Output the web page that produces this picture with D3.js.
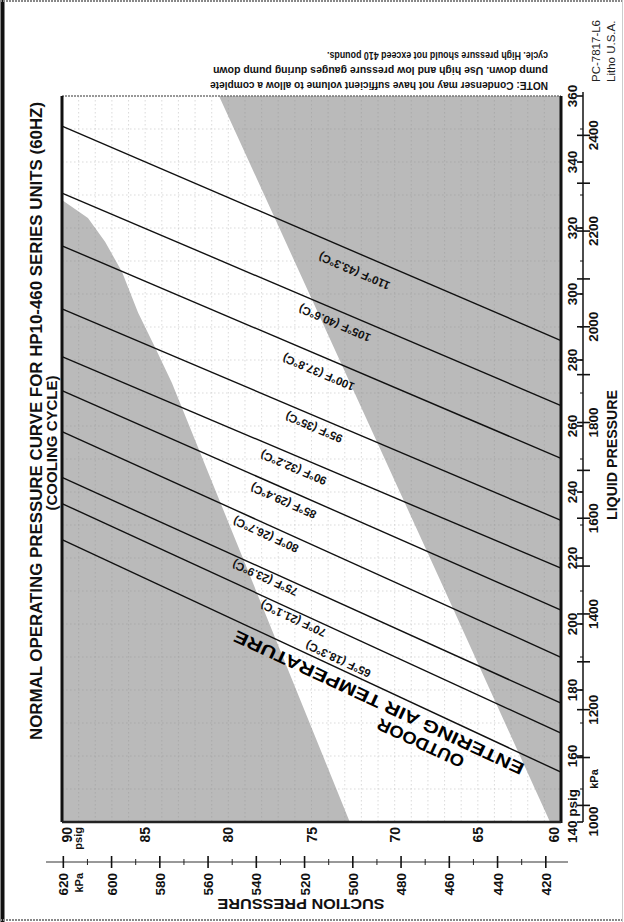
<!DOCTYPE html>
<html><head><meta charset="utf-8">
<script src="https://cdn.jsdelivr.net/npm/d3@7"></script>
<style>html,body{margin:0;padding:0;background:#fff;} svg{display:block;font-family:"Liberation Sans",Arial,Helvetica,sans-serif;}</style>
</head><body><div id="chart"></div>
<script>
// ---------- data ----------
const suctionTicks = [90, 85, 80, 75, 70, 65, 60];                 // psig
const suctionKpaTicks = [620, 600, 580, 560, 540, 520, 500, 480, 460, 440, 420];
const liquidTicks = [140, 160, 180, 200, 220, 240, 260, 280, 300, 320, 340, 360];
const liquidKpaTicks = [1000, 1200, 1400, 1600, 1800, 2000, 2200, 2400];
const tempLabels = ["110°F (43.3°C)", "105°F (40.6°C)", "100°F (37.8°C)", "95°F (35°C)",
  "90°F (32.2°C)", "85°F (29.4°C)", "80°F (26.7°C)", "75°F (23.9°C)", "70°F (21.1°C)", "65°F (18.3°C)"];
const liquidAtSuction90 = [350.9, 330.6, 314.6, 295.5, 281.0, 270.7, 258.3, 244.4, 236.5, 225.6];
const liquidAtSuction60 = [285.9, 266.2, 250.2, 231.4, 216.9, 204.2, 189.9, 176.0, 166.9, 155.1];
const labelSuction = [72.0, 73.3, 74.2, 74.6, 75.8, 76.4, 77.5, 77.6, 75.9, 73.6];
// normal-operating (white) band outline, [suction, liquid]
const bandLeftEdge = [[90, 328.5], [88.44, 323.0], [87.41, 315.8], [86.39, 306.7], [85.43, 294.4],
  [84.41, 283.9], [83.39, 273.0], [72.7, 140]];
const bandRightEdge = [[80.56, 360], [67.27, 213.3], [60.66, 140]];
const noteLines = ["NOTE: Condenser may not have sufficient volume to allow a complete",
  "pump down. Use high and low pressure gauges during pump down",
  "cycle. High pressure should not exceed 410 pounds."];
const titleLines = ["NORMAL OPERATING PRESSURE CURVE FOR HP10-460 SERIES UNITS (60HZ)", "(COOLING CYCLE)"];
const curveNote = ["OUTDOOR", "ENTERING AIR TEMPERATURE"];

const KPA_PER_PSI = 6.895;

// ---------- layout ----------
const W = 624, H = 922;
const P = {left: 62, right: 561, top: 96, bottom: 822};
const GREY = "#bababa";
const labelGap = [-14, -9, -12, -7, -8, -8, -6, -4, -4, 12];   // text offset from its line (px, text frame)

const svg = d3.select("#chart").append("svg").attr("width", W).attr("height", H);
svg.append("rect").attr("width", W).attr("height", H).attr("fill", "#fff");

const xS = d3.scaleLinear().domain([90, 60]).range([P.left, P.right]);   // suction -> screen x
const yL = d3.scaleLinear().domain([140, 360]).range([P.bottom, P.top]); // liquid -> screen y

// page frame
svg.append("line").attr("x1", 2.5).attr("x2", 2.5).attr("y1", 0).attr("y2", H).attr("stroke", "#111").attr("stroke-width", 4);
svg.append("line").attr("x1", 0).attr("x2", W).attr("y1", 1).attr("y2", 1).attr("stroke", "#888").attr("stroke-width", 2).attr("stroke-dasharray", "2,1");
svg.append("line").attr("x1", 0).attr("x2", W).attr("y1", H - 2).attr("y2", H - 2).attr("stroke", "#888").attr("stroke-width", 2).attr("stroke-dasharray", "2,1");
svg.append("line").attr("x1", W - 1.5).attr("x2", W - 1.5).attr("y1", 0).attr("y2", H).attr("stroke", "#ccc").attr("stroke-width", 1);

// plot background
const plot = svg.append("g");
plot.append("rect").attr("x", P.left).attr("y", P.top).attr("width", P.right - P.left).attr("height", P.bottom - P.top).attr("fill", GREY);
const bandPoly = [[90, 360]].concat(bandRightEdge).concat(bandLeftEdge.slice().reverse());
plot.append("path")
  .attr("d", d3.line().x(d => xS(d[0])).y(d => yL(d[1]))(bandPoly) + "Z")
  .attr("fill", "#fff");

// grid
const grid = plot.append("g").attr("stroke", "#8a8a8a").attr("stroke-width", 0.6).attr("stroke-dasharray", "1.5,2.5").attr("opacity", 0.5);
grid.selectAll("line.v").data(d3.range(61, 90)).enter().append("line")
  .attr("x1", d => xS(d)).attr("x2", d => xS(d)).attr("y1", P.top).attr("y2", P.bottom);
grid.selectAll("line.h").data(d3.range(150, 360, 10)).enter().append("line")
  .attr("y1", d => yL(d)).attr("y2", d => yL(d)).attr("x1", P.left).attr("x2", P.right);

// temperature lines
const lineGen = d3.line().x(d => xS(d[0])).y(d => yL(d[1]));
plot.selectAll("path.temp").data(tempLabels.map((t, i) => [[90, liquidAtSuction90[i]], [60, liquidAtSuction60[i]]]))
  .enter().append("path").attr("d", lineGen).attr("fill", "none").attr("stroke", "#111").attr("stroke-width", 1.4);

// labels along lines
const lineAngle = i => Math.atan2(yL(liquidAtSuction60[i]) - yL(liquidAtSuction90[i]), xS(60) - xS(90)) * 180 / Math.PI;
const pointOn = (i, s) => {
  const a = liquidAtSuction90[i], b = liquidAtSuction60[i];
  return [xS(s), yL(a + (b - a) * (90 - s) / 30)];
};
const last = tempLabels.length - 1;
tempLabels.forEach((t, i) => {
  const [px, py] = pointOn(i, labelSuction[i]);
  plot.append("text")
    .attr("transform", `translate(${px},${py}) rotate(${lineAngle(i) + 180})`)
    .attr("y", labelGap[i]).attr("text-anchor", "middle")
    .attr("font-size", 11.5).attr("font-weight", "bold").attr("fill", "#111")
    .text(t);
});

// outdoor entering air temperature label, under the lowest line
{
  const ang = lineAngle(last) + 180;
  const [p1x, p1y] = pointOn(last, 70.6);
  plot.append("text").attr("transform", `translate(${p1x},${p1y}) rotate(${ang})`)
    .attr("y", -8).attr("text-anchor", "middle").attr("font-size", 17).attr("font-weight", "bold")
    .attr("textLength", 318).attr("lengthAdjust", "spacingAndGlyphs").text(curveNote[1]);
  const [p2x, p2y] = pointOn(last, 67.6);
  plot.append("text").attr("transform", `translate(${p2x},${p2y}) rotate(${ang})`)
    .attr("y", -27).attr("text-anchor", "middle").attr("font-size", 17).attr("font-weight", "bold")
    .attr("textLength", 94).attr("lengthAdjust", "spacingAndGlyphs").text(curveNote[0]);
}

// plot border
svg.append("line").attr("x1", P.left).attr("x2", P.right).attr("y1", P.top).attr("y2", P.top).attr("stroke", "#777").attr("stroke-width", 1.5).attr("stroke-dasharray", "2,1");
svg.append("line").attr("x1", P.left).attr("x2", P.left).attr("y1", P.top).attr("y2", P.bottom).attr("stroke", "#111").attr("stroke-width", 3);
svg.append("line").attr("x1", P.right).attr("x2", P.right).attr("y1", P.top).attr("y2", P.bottom + 1).attr("stroke", "#111").attr("stroke-width", 3);
svg.append("line").attr("x1", P.left).attr("x2", P.right).attr("y1", P.bottom).attr("y2", P.bottom).attr("stroke", "#222").attr("stroke-width", 2.5);

// ---------- suction axis (bottom) ----------
const bold = sel => sel.attr("font-weight", "bold").attr("fill", "#111");
suctionTicks.forEach(v => {
  let x = xS(v) + 5;
  if (v === 90) x += 5;
  if (v === 60) x -= 7;
  svg.append("text").attr("transform", `translate(${x},827) rotate(-90)`).attr("text-anchor", "end")
    .attr("font-size", 14).call(bold).text(v);
});
svg.append("text").attr("transform", `translate(${xS(90) + 20},827) rotate(-90)`).attr("text-anchor", "end")
  .attr("font-size", 11).call(bold).text("psig");

const kAxisY = 862;
svg.append("line").attr("x1", 46).attr("x2", 568).attr("y1", kAxisY).attr("y2", kAxisY).attr("stroke", "#333").attr("stroke-width", 1);
svg.selectAll("line.kmin").data(d3.range(430, 620, 20)).enter().append("line")
  .attr("x1", d => xS(d / KPA_PER_PSI)).attr("x2", d => xS(d / KPA_PER_PSI))
  .attr("y1", kAxisY - 3).attr("y2", kAxisY + 3).attr("stroke", "#222").attr("stroke-width", 1);
suctionKpaTicks.forEach(k => {
  const x = xS(k / KPA_PER_PSI);
  svg.append("line").attr("x1", x).attr("x2", x).attr("y1", kAxisY - 6).attr("y2", kAxisY + 6).attr("stroke", "#111").attr("stroke-width", 1.6);
  svg.append("text").attr("transform", `translate(${x + 5},873) rotate(-90)`).attr("text-anchor", "end")
    .attr("font-size", 13.5).call(bold).text(k);
});
svg.append("text").attr("transform", `translate(${xS(620 / KPA_PER_PSI) + 20},873) rotate(-90)`).attr("text-anchor", "end")
  .attr("font-size", 11).call(bold).text("kPa");
svg.append("text").attr("transform", `translate(301,899) rotate(180)`).attr("text-anchor", "middle")
  .attr("font-size", 14).call(bold).attr("textLength", 167).attr("lengthAdjust", "spacingAndGlyphs").text("SUCTION PRESSURE");

// ---------- liquid axis (right) ----------
const rAxisX = 583;
svg.append("line").attr("x1", rAxisX).attr("x2", rAxisX).attr("y1", 92).attr("y2", 822).attr("stroke", "#111").attr("stroke-width", 1.5);
svg.selectAll("line.pmin").data(d3.range(150, 360, 10)).enter().append("line")
  .attr("x1", rAxisX - 3).attr("x2", rAxisX).attr("y1", d => yL(d)).attr("y2", d => yL(d)).attr("stroke", "#111").attr("stroke-width", 1);
svg.selectAll("line.kmin2").data(d3.range(1000, 2500, 100)).enter().append("line")
  .attr("x1", rAxisX - 6).attr("x2", rAxisX + 7).attr("y1", d => yL(d / KPA_PER_PSI)).attr("y2", d => yL(d / KPA_PER_PSI)).attr("stroke", "#111").attr("stroke-width", 1.6);
liquidTicks.forEach(v => {
  svg.append("line").attr("x1", rAxisX - 6).attr("x2", rAxisX).attr("y1", yL(v)).attr("y2", yL(v)).attr("stroke", "#111").attr("stroke-width", 1.6);
  if (v === 140) {
    svg.append("text").attr("transform", `translate(577,843) rotate(-90)`).attr("text-anchor", "start")
      .attr("font-size", 13.5).call(bold).text("140 psig");
  } else {
    svg.append("text").attr("transform", `translate(577,${yL(v)}) rotate(-90)`).attr("text-anchor", "middle")
      .attr("font-size", 13.5).call(bold).text(v);
  }
});
liquidKpaTicks.forEach(k => {
  let y = yL(k / KPA_PER_PSI);
  if (k === 1000) y += 16;
  svg.append("text").attr("transform", `translate(598,${y}) rotate(-90)`).attr("text-anchor", "middle")
    .attr("font-size", 13.5).call(bold).text(k);
});
svg.append("text").attr("transform", `translate(598,779) rotate(-90)`).attr("text-anchor", "middle")
  .attr("font-size", 11).call(bold).text("kPa");
svg.append("text").attr("transform", `translate(617,455) rotate(-90)`).attr("text-anchor", "middle")
  .attr("font-size", 14).call(bold).attr("textLength", 130).attr("lengthAdjust", "spacingAndGlyphs").text("LIQUID PRESSURE");

// ---------- titles & notes ----------
svg.append("text").attr("transform", `translate(42,421) rotate(-90)`).attr("text-anchor", "middle")
  .attr("font-size", 16.5).call(bold).attr("textLength", 638).attr("lengthAdjust", "spacingAndGlyphs").text(titleLines[0]);
svg.append("text").attr("transform", `translate(57,443) rotate(-90)`).attr("text-anchor", "middle")
  .attr("font-size", 15).call(bold).text(titleLines[1]);

const noteLens = [338, 335, 221];
noteLines.forEach((t, i) => {
  svg.append("text").attr("transform", `translate(548,${82 - i * 15}) rotate(180)`).attr("text-anchor", "start")
    .attr("font-size", 11.5).call(bold).attr("textLength", noteLens[i]).attr("lengthAdjust", "spacingAndGlyphs").text(t);
});
svg.append("text").attr("transform", `translate(600,82) rotate(-90)`).attr("text-anchor", "start")
  .attr("font-size", 11.5).attr("fill", "#222").text("PC-7817-L6");
svg.append("text").attr("transform", `translate(615,82) rotate(-90)`).attr("text-anchor", "start")
  .attr("font-size", 11.5).attr("fill", "#222").text("Litho U.S.A.");
</script></body></html>
